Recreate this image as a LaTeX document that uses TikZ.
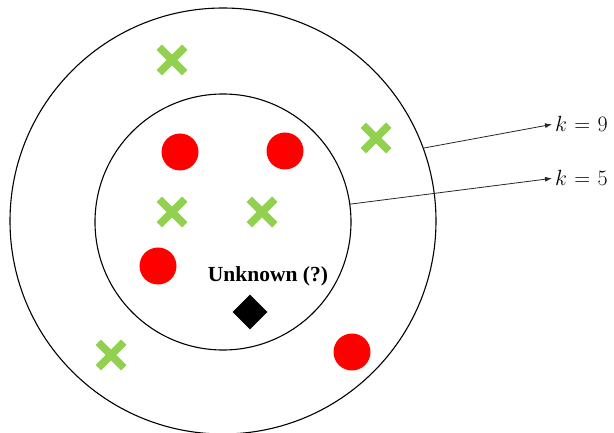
\RequirePackage{fix-cm}
\documentclass[tikz,border=0pt]{standalone}
\usepackage{fontspec}
\setmainfont{Liberation Serif}
\usetikzlibrary{shapes.geometric,shapes.misc,arrows.meta}
\definecolor{xgreen}{RGB}{146,208,80}
% k value label with slightly wider spacing round the relation
\newcommand{\kval}[1]{$\thickmuskip=6mu\relax k = #1$}
\begin{document}
\begin{tikzpicture}[x=1pt,y=-1pt,
  ring/.style={circle, draw=black, line width=1.1pt, inner sep=0pt, outer sep=0pt},
  redpt/.style={circle, fill=red, inner sep=0pt, minimum size=37pt},
  greenpt/.style={cross out, draw=xgreen, line width=7.5pt, line cap=butt, inner sep=0pt, minimum size=18pt},
  query/.style={diamond, fill=black, inner sep=0pt, minimum size=35pt},
  pointer/.style={draw=black!85, line width=0.8pt, -{Latex[length=7pt,width=5pt]}},
  klabel/.style={anchor=base west, inner xsep=3pt, inner ysep=0pt,
                 font=\fontsize{22}{26}\selectfont}]
  \useasboundingbox (0,0) rectangle (614,433);

  % neighbourhood rings
  \node[ring, minimum size=426pt] (outer) at (223,221) {};
  \node[ring, minimum size=256pt] (inner) at (223,222) {};

  % class A (red dots)
  \node[redpt] (r1) at (180,152) {};
  \node[redpt] (r2) at (285,151) {};
  \node[redpt] (r3) at (158,266) {};
  \node[redpt] (r4) at (352,352) {};

  % class B (green crosses)
  \node[greenpt] (g1) at (172,60) {};
  \node[greenpt] (g2) at (376,138) {};
  \node[greenpt] (g3) at (172,212) {};
  \node[greenpt] (g4) at (262,212) {};
  \node[greenpt] (g5) at (111,355) {};

  % query point
  \node[query] (q) at (250,312) {};
  \node[anchor=base, inner sep=0pt, font=\fontsize{21.5}{24}\selectfont\bfseries]
    (qlabel) at (268,282) {Unknown (?)};

  % k labels
  \node[klabel] (k9) at (552,132) {\kval{9}};
  \node[klabel] (k5) at (552,186) {\kval{5}};

  \draw[pointer] (outer.20.5) -- (k9.west);
  \draw[pointer] (inner.8.4) -- (k5.west);
\end{tikzpicture}
\end{document}
